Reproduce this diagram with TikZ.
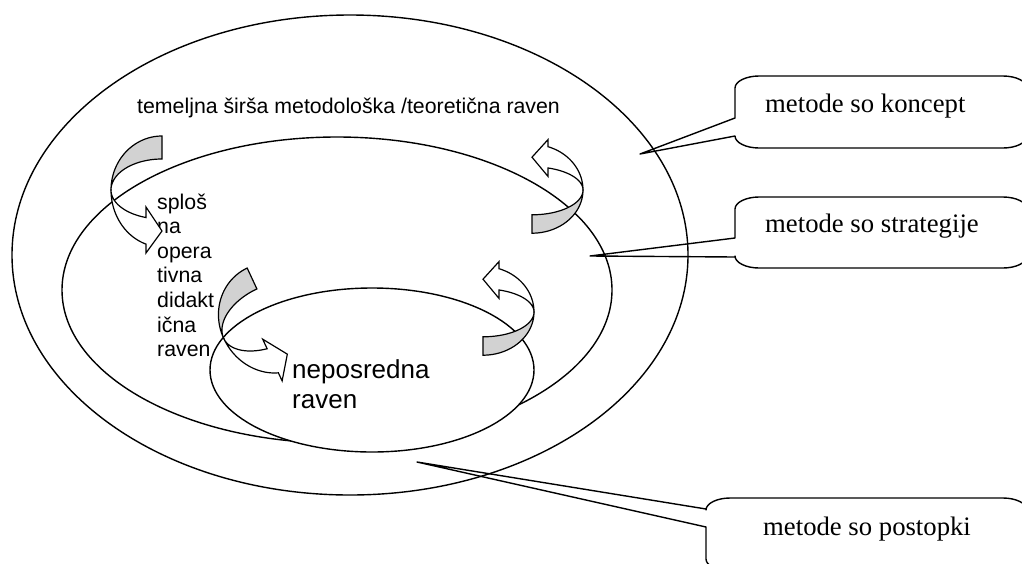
\documentclass[tikz,border=0pt]{standalone}
\usepackage{fontspec}
\setmainfont{Liberation Serif}
\newfontfamily\arialfont{Liberation Sans}
\definecolor{bandgray}{RGB}{210,210,210}
\tikzset{
  ring/.style={line width=1.4pt},
  arrowline/.style={line width=1.2pt, line join=miter, miter limit=4},
  calloutline/.style={line width=1.4pt, line join=round},
  sanslabel/.style={font=\arialfont\fontsize{21.3}{24.6}\selectfont, inner sep=0pt, anchor=base west},
  biglabel/.style={font=\arialfont\fontsize{26}{30}\selectfont, inner sep=0pt, anchor=base west},
  serlabel/.style={font=\fontsize{26.7}{30}\selectfont, inner sep=0pt, anchor=base west},
  pics/turnarrow/.style={code={
    % shaded back half of the twisted band
    \filldraw[arrowline, fill=bandgray]
      plot[domain=270:180, samples=40] ({51*cos(\x)},{54*sin(\x)})
      -- plot[domain=180:270, samples=40] ({51*cos(\x)},{31*sin(\x)})
      -- cycle;
    % white front half ending in the head
    \filldraw[arrowline, fill=white]
      plot[domain=180:108.3, samples=40] ({51*cos(\x)},{57*sin(\x)})
      -- (-16,63) -- (0,41) -- (-16,17)
      -- plot[domain=108.3:180, samples=40] ({51*cos(\x)},{29*sin(\x)})
      -- cycle;
  }},
}
% rounded box with a wedge on its left side:
% left, top, bottom, right, upper wedge foot, lower wedge foot, wedge tip
\newcommand\speechbox[7]{%
  \draw[calloutline]
    (#1,#3-12) -- (#1,#6) -- (#7) -- (#1,#5) -- (#1,#2+12)
    .. controls (#1,#2+5.4) and (#1+11,#2) .. (#1+24,#2)
    -- (#4-24,#2)
    .. controls (#4-11,#2) and (#4,#2+5.4) .. (#4,#2+12)
    -- (#4,#3-12)
    .. controls (#4,#3-5.4) and (#4-11,#3) .. (#4-24,#3)
    -- (#1+24,#3)
    .. controls (#1+11,#3) and (#1,#3-5.4) .. (#1,#3-12) -- cycle;}
\begin{document}
\begin{tikzpicture}[x=1pt,y=-1pt]
\path[use as bounding box, clip] (0,0) rectangle (1022,563);
\fill[white] (0,0) rectangle (1022,563);

% three nested levels
\draw[ring] (350,255) ellipse [x radius=338, y radius=240];
\draw[ring] (337,290) ellipse [x radius=275, y radius=153];
\filldraw[ring, fill=white] (372,370) ellipse [x radius=162, y radius=82];

% level names
\node[sanslabel] (outerlbl) at (137,113) {temeljna širša metodološka /teoretična raven};
\node[sanslabel] (mid1) at (157,209) {sploš};
\node[sanslabel] (mid2) at (157,233.6) {na};
\node[sanslabel] (mid3) at (157,258.2) {opera};
\node[sanslabel] (mid4) at (157,282.8) {tivna};
\node[sanslabel] (mid5) at (157,307.4) {didakt};
\node[sanslabel] (mid6) at (157,332) {ična};
\node[sanslabel] (mid7) at (157,356.6) {raven};
\node[biglabel] (inner1) at (292,378) {neposredna};
\node[biglabel] (inner2) at (292,408) {raven};

% twisted arrows between the levels
\pic (turnA) at (162,190) {turnarrow};
\pic[rotate=25] (turnB) at (270,317) {turnarrow};
\pic[rotate=180, yscale=0.8] (turnC) at (532,190) {turnarrow};
\pic[rotate=180, yscale=0.8] (turnD) at (483,312) {turnarrow};

% callouts
\coordinate (tipA) at (640,154);
\coordinate (tipB) at (590,256);
\coordinate (tipC) at (417,462);
\speechbox{735}{76}{148}{1027}{118}{136}{tipA}
\speechbox{735}{197}{268}{1027}{238}{257}{tipB}
\speechbox{706}{498}{571}{1027}{509}{527}{tipC}
\node[serlabel] (txtA) at (765,112) {metode so koncept};
\node[serlabel] (txtB) at (765,232) {metode so strategije};
\node[serlabel] (txtC) at (763,535) {metode so postopki};
\end{tikzpicture}
\end{document}
